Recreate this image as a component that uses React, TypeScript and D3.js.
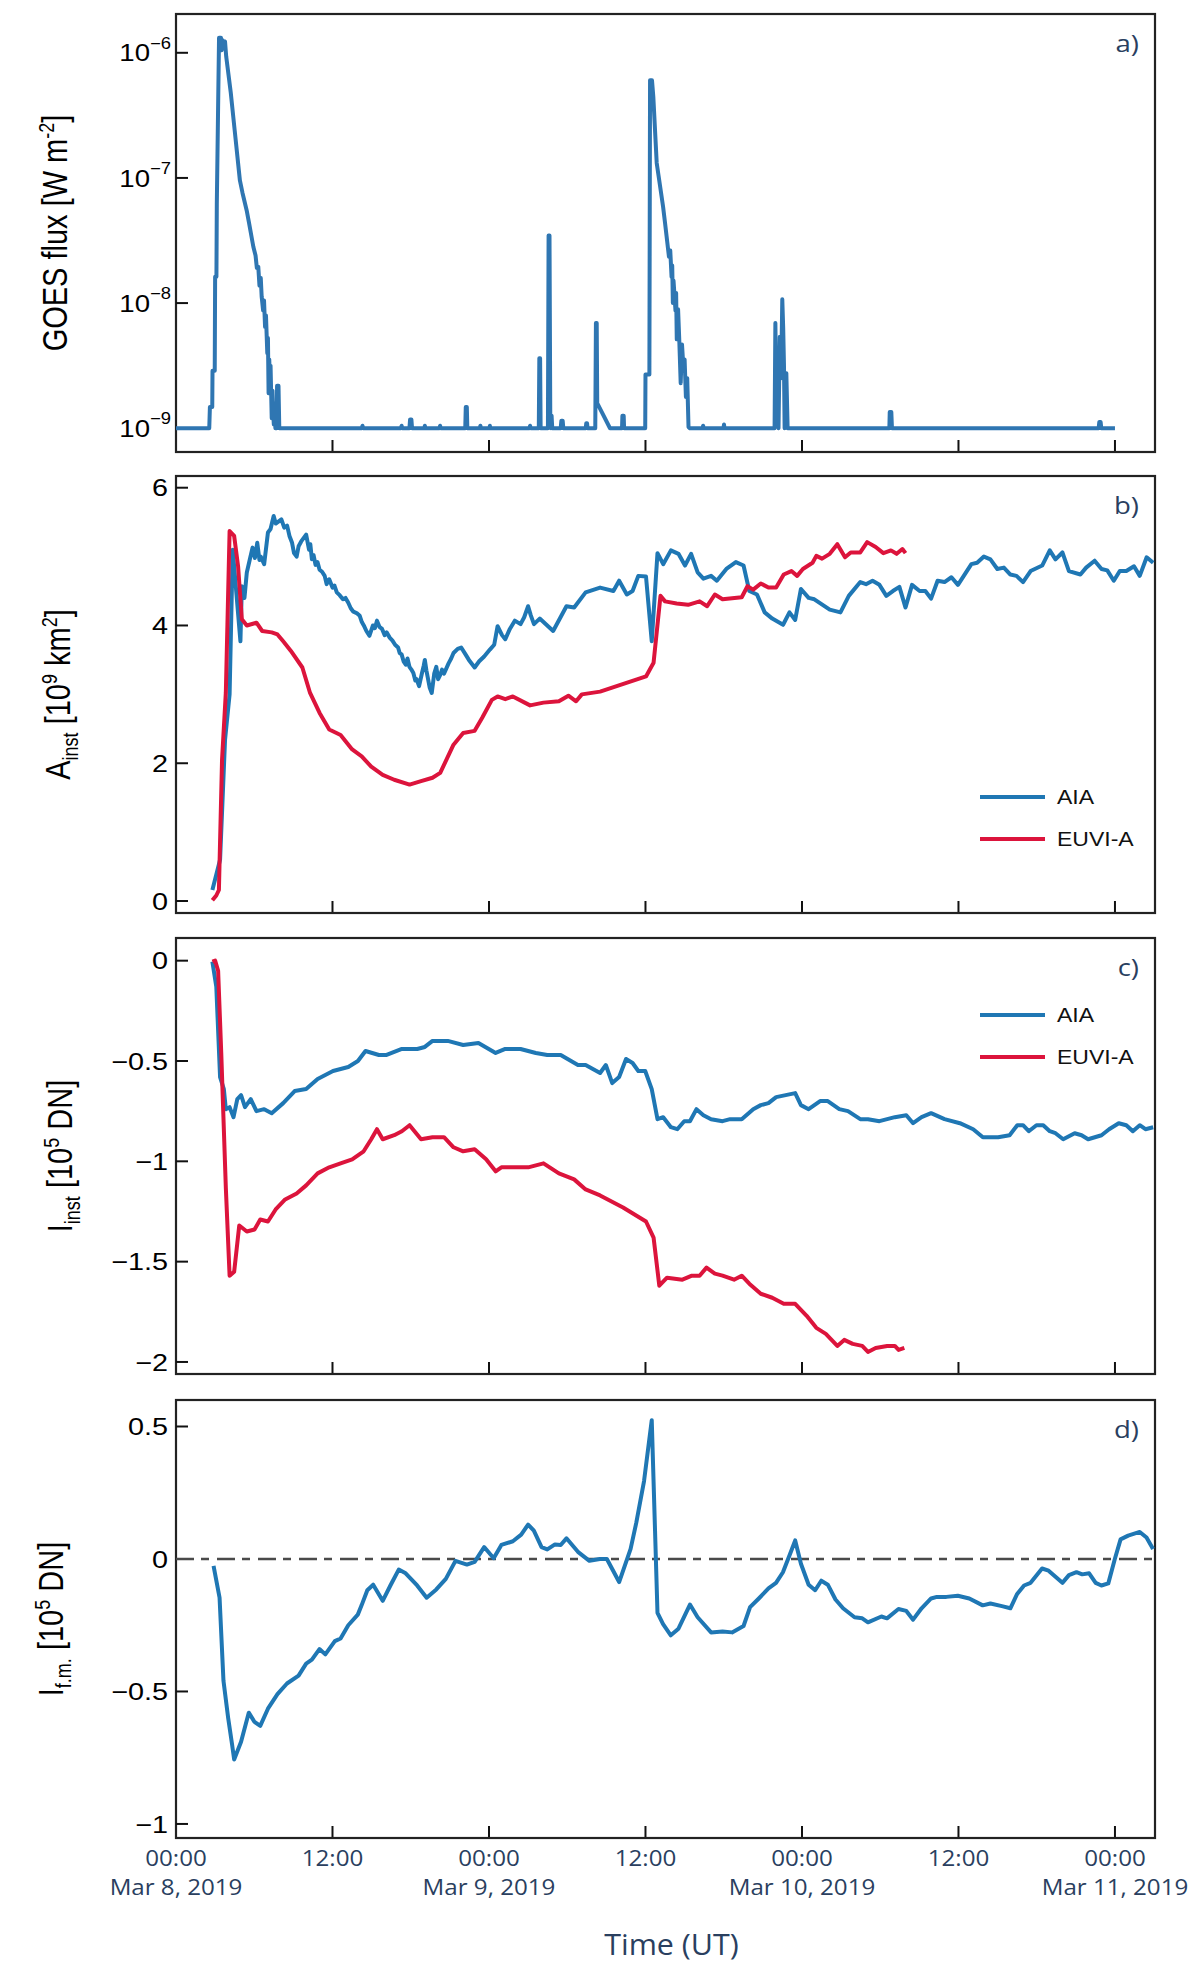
import React from 'react';
import * as d3 from 'd3';

// ---------- data (hours since 2019-03-08 00:00 UT) ----------
const T0 = Date.UTC(2019, 2, 8);
const T_END_HOURS = 75.07;

// GOES flux: [hour, log10 flux (W m^-2)]
const goesLogFlux: [number, number][] = [
  [0, -9], [2.55, -9], [2.6, -8.83], [2.78, -8.83], [2.8, -8.54], [2.97, -8.54], [3.0, -7.79], [3.1, -7.79],
  [3.13, -7.2], [3.3, -5.88], [3.45, -5.88], [3.5, -5.98], [3.58, -5.9], [3.66, -5.95], [3.76, -5.91], [3.85, -6.03],
  [4.2, -6.32], [4.5, -6.62], [4.9, -7.02], [5.1, -7.12], [5.42, -7.26], [5.6, -7.36], [5.93, -7.55], [6.1, -7.62],
  [6.2, -7.72], [6.31, -7.71], [6.4, -7.86], [6.5, -7.8], [6.57, -7.95], [6.68, -8.06], [6.75, -7.98], [6.83, -8.19],
  [6.9, -8.1], [7.0, -8.4], [7.05, -8.28], [7.1, -8.72], [7.15, -8.45], [7.2, -8.62], [7.25, -8.5], [7.34, -8.92],
  [7.4, -8.7], [7.45, -8.86], [7.5, -8.97], [7.55, -8.8], [7.62, -9], [7.72, -9], [7.75, -8.66], [7.86, -8.66],
  [7.92, -9], [14.25, -9], [14.3, -8.98], [14.35, -9], [17.25, -9], [17.3, -8.98], [17.35, -9], [17.9, -9],
  [17.95, -8.93], [18.05, -8.93], [18.1, -9], [19.05, -9], [19.08, -8.98], [19.12, -9], [20.2, -9], [20.25, -8.98],
  [20.3, -9], [22.18, -9], [22.22, -8.83], [22.3, -8.83], [22.34, -9], [23.3, -9], [23.34, -8.98], [23.38, -9],
  [24.04, -9], [24.07, -8.98], [24.1, -9], [27.1, -9], [27.15, -8.98], [27.2, -9], [27.82, -9], [27.86, -8.44],
  [27.92, -8.44], [27.96, -9], [28.52, -9], [28.57, -7.46], [28.64, -7.46], [28.7, -8.9], [28.75, -9], [28.8, -8.9],
  [28.85, -9], [29.5, -9], [29.55, -8.94], [29.65, -8.94], [29.7, -9], [31.42, -9], [31.46, -8.96], [31.52, -8.96],
  [31.56, -9], [32.15, -9], [32.2, -8.16], [32.26, -8.16], [32.3, -8.8], [33.28, -9], [34.2, -9], [34.23, -8.9],
  [34.33, -8.9], [34.36, -9], [35.98, -9], [36.0, -8.57], [36.3, -8.57], [36.35, -6.22], [36.5, -6.22], [36.6, -6.35],
  [36.86, -6.88], [37.0, -6.98], [37.35, -7.23], [37.5, -7.36], [37.8, -7.63], [37.9, -7.58], [38.0, -7.79],
  [38.05, -7.7], [38.1, -8.0], [38.15, -7.82], [38.3, -8.06], [38.35, -7.92], [38.4, -8.29], [38.5, -8.05],
  [38.6, -8.32], [38.7, -8.64], [38.8, -8.33], [38.9, -8.5], [39.0, -8.45], [39.1, -8.75], [39.2, -8.6], [39.3, -8.99],
  [39.4, -9], [40.38, -9], [40.42, -8.98], [40.46, -9], [41.98, -9], [42.02, -8.97], [42.06, -9], [45.9, -9],
  [45.96, -8.16], [46.05, -8.9], [46.2, -9], [46.3, -8.27], [46.4, -8.6], [46.49, -7.97], [46.56, -8.2], [46.62, -8.5],
  [46.67, -9], [46.8, -8.56], [46.9, -9], [54.7, -9], [54.73, -8.87], [54.85, -8.87], [54.9, -9], [70.75, -9],
  [70.8, -8.95], [70.9, -8.95], [70.95, -9], [72.0, -9],
];

// Instantaneous area [10^9 km^2]
const aiaArea: [number, number][] = [
  [2.79, 0.16], [3.38, 0.6], [3.76, 2.34], [4.11, 3.0], [4.35, 5.1], [4.94, 3.77], [5.05, 4.57], [5.25, 4.4],
  [5.43, 4.77], [5.65, 4.95], [5.87, 5.13], [6.05, 4.98], [6.23, 5.2], [6.4, 4.95], [6.5, 5.0], [6.76, 4.89],
  [7.05, 5.35], [7.25, 5.4], [7.49, 5.59], [7.65, 5.48], [7.8, 5.5], [8.08, 5.54], [8.3, 5.42], [8.52, 5.45],
  [8.7, 5.3], [8.9, 5.2], [9.05, 5.05], [9.25, 5.0], [9.4, 5.15], [9.6, 5.22], [9.98, 5.32], [10.2, 5.1],
  [10.3, 5.18], [10.42, 4.96], [10.55, 5.02], [10.7, 4.88], [10.85, 4.92], [11.01, 4.81], [11.2, 4.78],
  [11.4, 4.72], [11.55, 4.6], [11.75, 4.67], [12.0, 4.55], [12.15, 4.58], [12.33, 4.48], [12.55, 4.44],
  [12.8, 4.38], [13.0, 4.4], [13.21, 4.33], [13.4, 4.25], [13.6, 4.2], [13.85, 4.18], [14.09, 4.14], [14.25, 4.05],
  [14.4, 4.0], [14.6, 3.92], [14.83, 3.85], [15.1, 4.0], [15.25, 3.96], [15.41, 4.07], [15.6, 3.98], [15.8, 3.95],
  [16.0, 3.86], [16.15, 3.9], [16.4, 3.82], [16.6, 3.78], [16.8, 3.72], [17.03, 3.68], [17.15, 3.6], [17.3, 3.58],
  [17.45, 3.48], [17.62, 3.43], [17.75, 3.52], [17.9, 3.4], [18.05, 3.36], [18.2, 3.31], [18.35, 3.2],
  [18.45, 3.22], [18.64, 3.12], [18.85, 3.3], [19.0, 3.42], [19.08, 3.5], [19.2, 3.35], [19.3, 3.25], [19.45, 3.1],
  [19.61, 3.02], [19.8, 3.3], [19.96, 3.4], [20.1, 3.22], [20.25, 3.28], [20.4, 3.36], [20.55, 3.3], [20.9, 3.45],
  [21.1, 3.52], [21.28, 3.6], [21.6, 3.66], [21.87, 3.68], [22.2, 3.58], [22.46, 3.5], [22.9, 3.39], [23.25, 3.48],
  [23.63, 3.55], [24.07, 3.65], [24.4, 3.72], [24.66, 3.99], [25.0, 3.86], [25.25, 3.8], [25.6, 3.95], [25.98, 4.07],
  [26.42, 4.02], [26.7, 4.12], [27.0, 4.28], [27.2, 4.15], [27.45, 4.02], [27.89, 4.1], [28.92, 3.92], [29.94, 4.28],
  [30.53, 4.26], [31.41, 4.48], [32.52, 4.55], [33.54, 4.5], [33.98, 4.65], [34.57, 4.45], [35.01, 4.5],
  [35.45, 4.72], [36.04, 4.71], [36.48, 3.77], [36.92, 5.05], [37.36, 4.89], [37.95, 5.09], [38.53, 5.04],
  [39.03, 4.87], [39.5, 5.04], [40.0, 4.77], [40.44, 4.68], [41.03, 4.72], [41.47, 4.65], [42.2, 4.82],
  [42.93, 4.92], [43.52, 4.87], [43.96, 4.5], [44.55, 4.45], [45.14, 4.19], [45.72, 4.1], [46.55, 4.01],
  [47.04, 4.19], [47.48, 4.08], [47.92, 4.53], [48.51, 4.4], [48.95, 4.38], [50.13, 4.23], [50.95, 4.19],
  [51.59, 4.43], [52.47, 4.63], [52.91, 4.6], [53.41, 4.65], [53.94, 4.59], [54.47, 4.43], [54.97, 4.5],
  [55.47, 4.56], [55.94, 4.26], [56.44, 4.59], [57.02, 4.5], [57.46, 4.5], [57.9, 4.39], [58.4, 4.65],
  [58.93, 4.63], [59.46, 4.7], [59.96, 4.59], [60.99, 4.89], [61.43, 4.91], [61.95, 5.0], [62.45, 4.96],
  [62.98, 4.82], [63.48, 4.84], [63.98, 4.74], [64.45, 4.72], [64.95, 4.63], [65.53, 4.79], [66.42, 4.87],
  [67.0, 5.09], [67.44, 4.96], [67.97, 5.06], [68.47, 4.79], [69.35, 4.74], [69.79, 4.84], [70.44, 4.94],
  [70.97, 4.82], [71.41, 4.8], [71.91, 4.65], [72.37, 4.79], [72.87, 4.79], [73.46, 4.86], [73.9, 4.72],
  [74.43, 4.99], [74.93, 4.91],
];

const euviArea: [number, number][] = [
  [2.79, 0.01], [3.09, 0.08], [3.29, 0.16], [3.53, 2.05], [3.82, 3.02], [4.11, 5.37], [4.46, 5.3], [4.76, 4.86],
  [5.05, 4.09], [5.43, 4.0], [6.17, 4.04], [6.61, 3.92], [7.34, 3.9], [7.78, 3.87], [8.22, 3.77], [8.81, 3.63],
  [9.69, 3.39], [10.28, 3.02], [11.01, 2.73], [11.75, 2.49], [12.62, 2.41], [13.51, 2.2], [14.24, 2.1],
  [14.97, 1.95], [15.85, 1.83], [16.73, 1.76], [17.91, 1.69], [18.79, 1.74], [19.67, 1.79], [20.26, 1.86],
  [21.28, 2.27], [22.02, 2.44], [22.9, 2.47], [23.48, 2.66], [24.22, 2.92], [24.66, 2.97], [25.25, 2.93],
  [25.83, 2.97], [27.15, 2.84], [28.18, 2.88], [29.36, 2.9], [30.09, 2.98], [30.68, 2.9], [31.12, 3.0],
  [32.52, 3.04], [36.04, 3.26], [36.62, 3.46], [37.15, 4.43], [37.5, 4.35], [38.39, 4.32], [39.27, 4.3],
  [40.15, 4.35], [40.73, 4.28], [41.32, 4.45], [41.91, 4.38], [43.38, 4.41], [43.82, 4.57], [44.26, 4.52],
  [44.84, 4.61], [45.43, 4.55], [46.02, 4.55], [46.6, 4.74], [47.19, 4.79], [47.63, 4.72], [48.07, 4.82],
  [48.81, 4.91], [49.1, 5.01], [49.54, 4.97], [50.13, 5.04], [50.71, 5.18], [51.3, 4.99], [51.74, 5.06],
  [52.47, 5.06], [53.0, 5.21], [53.65, 5.14], [54.24, 5.05], [54.82, 5.09], [55.26, 5.04], [55.7, 5.11], [55.94, 5.05],
];

// Instantaneous intensity [10^5 DN]
const aiaIntensity: [number, number][] = [
  [2.79, -0.005], [3.09, -0.13], [3.38, -0.58], [3.67, -0.64], [3.82, -0.74], [4.11, -0.73], [4.41, -0.78],
  [4.7, -0.69], [4.99, -0.67], [5.29, -0.73], [5.73, -0.69], [6.17, -0.75], [6.76, -0.74], [7.34, -0.76],
  [8.22, -0.71], [9.1, -0.65], [9.98, -0.64], [10.86, -0.59], [12.04, -0.55], [13.21, -0.53], [13.95, -0.5],
  [14.53, -0.45], [15.56, -0.47], [16.15, -0.47], [17.32, -0.44], [18.5, -0.44], [19.08, -0.43], [19.67, -0.4],
  [20.84, -0.4], [22.02, -0.42], [23.19, -0.41], [24.51, -0.46], [25.25, -0.44], [26.42, -0.44], [27.59, -0.46],
  [28.47, -0.47], [29.5, -0.47], [30.82, -0.52], [31.41, -0.52], [32.52, -0.56], [32.96, -0.52], [33.45, -0.61],
  [33.98, -0.58], [34.51, -0.49], [35.01, -0.51], [35.45, -0.55], [35.98, -0.55], [36.48, -0.64], [36.92, -0.79],
  [37.36, -0.78], [37.95, -0.83], [38.44, -0.84], [38.97, -0.8], [39.41, -0.8], [39.91, -0.74], [40.44, -0.77],
  [41.03, -0.79], [41.91, -0.8], [42.49, -0.79], [43.38, -0.79], [44.26, -0.74], [44.84, -0.72], [45.43, -0.71],
  [46.02, -0.68], [46.75, -0.67], [47.48, -0.66], [47.92, -0.72], [48.51, -0.74], [49.39, -0.7], [49.98, -0.7],
  [50.86, -0.74], [51.53, -0.75], [52.47, -0.79], [53.06, -0.79], [53.94, -0.8], [55.12, -0.78], [56.0, -0.77],
  [56.52, -0.81], [57.17, -0.78], [57.9, -0.76], [58.93, -0.79], [60.11, -0.81], [61.13, -0.84], [61.87, -0.88],
  [63.04, -0.88], [63.92, -0.87], [64.51, -0.82], [64.95, -0.82], [65.39, -0.85], [65.98, -0.82], [66.5, -0.82],
  [67.0, -0.85], [67.44, -0.86], [68.03, -0.89], [68.91, -0.86], [69.44, -0.87], [69.94, -0.89], [70.97, -0.87],
  [71.55, -0.84], [72.29, -0.81], [72.87, -0.82], [73.37, -0.85], [73.9, -0.82], [74.34, -0.84], [74.93, -0.83],
];

const euviIntensity: [number, number][] = [
  [2.79, -0.005], [3.0, 0.0], [3.23, -0.05], [3.47, -0.46], [3.82, -1.13], [4.11, -1.57], [4.46, -1.55],
  [4.85, -1.32], [5.43, -1.35], [6.02, -1.34], [6.46, -1.29], [7.05, -1.3], [7.64, -1.24], [8.37, -1.19],
  [9.25, -1.16], [9.98, -1.12], [10.86, -1.06], [11.75, -1.03], [12.62, -1.01], [13.51, -0.99], [14.39, -0.95],
  [14.97, -0.89], [15.41, -0.84], [15.85, -0.89], [16.73, -0.87], [17.32, -0.85], [17.91, -0.82], [18.79, -0.89],
  [19.67, -0.88], [20.55, -0.88], [21.28, -0.93], [22.02, -0.95], [22.9, -0.94], [23.78, -0.99], [24.51, -1.05],
  [24.95, -1.03], [25.83, -1.03], [27.01, -1.03], [28.18, -1.01], [29.36, -1.06], [30.53, -1.09], [31.41, -1.14],
  [32.52, -1.17], [34.28, -1.23], [36.04, -1.3], [36.62, -1.38], [37.06, -1.62], [37.65, -1.58], [38.83, -1.59],
  [39.56, -1.57], [40.15, -1.57], [40.68, -1.53], [41.32, -1.56], [41.91, -1.57], [42.79, -1.59], [43.38, -1.57],
  [43.96, -1.61], [44.84, -1.66], [45.72, -1.68], [46.6, -1.71], [47.48, -1.71], [48.36, -1.77], [49.1, -1.83],
  [49.83, -1.86], [50.71, -1.92], [51.24, -1.89], [51.89, -1.91], [52.62, -1.92], [53.06, -1.95], [53.65, -1.93],
  [54.53, -1.92], [55.12, -1.92], [55.41, -1.94], [55.85, -1.93],
];

// Intensity of flux-matched region [10^5 DN]
const fmIntensity: [number, number][] = [
  [2.88, -0.026], [3.34, -0.146], [3.64, -0.46], [4.0, -0.6], [4.3, -0.7], [4.46, -0.757], [4.99, -0.69],
  [5.58, -0.58], [6.02, -0.615], [6.46, -0.63], [7.05, -0.565], [7.78, -0.51], [8.51, -0.47], [9.4, -0.44],
  [9.98, -0.395], [10.42, -0.38], [11.0, -0.34], [11.45, -0.36], [12.18, -0.31], [12.62, -0.3], [13.21, -0.25],
  [13.94, -0.21], [14.23, -0.175], [14.67, -0.118], [15.12, -0.097], [15.85, -0.158], [16.44, -0.1], [17.08, -0.04],
  [17.61, -0.054], [18.49, -0.1], [19.22, -0.146], [19.96, -0.115], [20.69, -0.075], [21.43, -0.007],
  [22.31, -0.021], [22.9, -0.011], [23.63, 0.045], [24.36, 0.003], [24.95, 0.053], [25.83, 0.067], [26.47, 0.092],
  [27.0, 0.13], [27.44, 0.107], [28.03, 0.045], [28.47, 0.036], [29.06, 0.055], [29.5, 0.053], [29.94, 0.078],
  [30.82, 0.027], [31.7, -0.007], [32.5, 0.0], [33.04, 0.0], [33.98, -0.087], [34.86, 0.038], [35.3, 0.138],
  [35.89, 0.294], [36.48, 0.524], [36.92, -0.203], [37.35, -0.246], [37.94, -0.288], [38.53, -0.263],
  [39.41, -0.172], [40.0, -0.22], [41.03, -0.277], [41.91, -0.274], [42.64, -0.277], [43.52, -0.253],
  [44.02, -0.182], [44.69, -0.149], [45.43, -0.111], [46.01, -0.09], [46.54, -0.05], [47.04, 0.013], [47.48, 0.07],
  [47.92, -0.018], [48.51, -0.097], [49.01, -0.118], [49.48, -0.082], [49.98, -0.097], [50.57, -0.153],
  [51.15, -0.186], [52.03, -0.22], [52.62, -0.224], [53.06, -0.239], [54.09, -0.217], [54.52, -0.224],
  [55.4, -0.189], [56.0, -0.196], [56.52, -0.229], [57.17, -0.186], [57.9, -0.149], [58.34, -0.143],
  [59.07, -0.143], [59.95, -0.139], [60.83, -0.149], [61.86, -0.175], [62.45, -0.168], [63.33, -0.178],
  [63.98, -0.186], [64.5, -0.132], [65.03, -0.1], [65.53, -0.09], [66.41, -0.036], [66.91, -0.044], [67.97, -0.09],
  [68.47, -0.061], [69.05, -0.05], [69.49, -0.058], [70.02, -0.054], [70.52, -0.09], [70.96, -0.1], [71.49, -0.092],
  [71.99, 0.0], [72.43, 0.074], [73.01, 0.088], [73.9, 0.102], [74.42, 0.081], [74.92, 0.038],
];

// tick values
const goesTickExps = [-6, -7, -8, -9];
const areaTicks = [0, 2, 4, 6];
const intensityTicks = [0, -0.5, -1, -1.5, -2];
const fmTicks = [0.5, 0, -0.5, -1];
const legendLabels = ['AIA', 'EUVI-A'];

// ---------- styles ----------
const BLUE = '#1f77b4';
const GOES_BLUE = '#2f76b2';
const RED = '#dc143c';
const NAVY = '#2a3f5f';
const ARIAL = '"Liberation Sans", Arial, Helvetica, sans-serif';
const OPEN = '"Open Sans", "Noto Sans", sans-serif';
const SX = 1.2; // horizontal stretch of the reference lettering

const L = 176;
const R = 1155;
const PANELS = [
  { top: 14, bottom: 452 },
  { top: 476, bottom: 913 },
  { top: 938, bottom: 1374 },
  { top: 1400, bottom: 1838 },
];

const toDate = (h: number) => new Date(T0 + h * 3600e3);
const fmtMinus = (v: number) => (v < 0 ? '\u2212' + String(Math.abs(v)) : String(v));

function SText(props: {
  x: number;
  y: number;
  anchor?: string;
  font: string;
  size: number;
  fill: string;
  dy?: string;
  sx?: number;
  children: React.ReactNode;
}) {
  const { x, y, anchor = 'start', font, size, fill, dy, sx = SX, children } = props;
  return (
    <g transform={`translate(${x},${y}) scale(${sx},1)`}>
      <text x={0} y={0} dy={dy} textAnchor={anchor} fontFamily={font} fontSize={size} fill={fill}>
        {children}
      </text>
    </g>
  );
}

export default function App() {
  const x = d3
    .scaleUtc()
    .domain([toDate(0), toDate(T_END_HOURS)])
    .range([L, R]);
  const xTicks = d3.utcHour.every(12)!.range(toDate(0), toDate(72.01));
  const fmtHM = d3.utcFormat('%H:%M');
  const fmtDay = d3.utcFormat('%b %-d, %Y');

  const yA = d3.scaleLog().domain([10 ** -9.19, 10 ** -5.69]).range([PANELS[0].bottom, PANELS[0].top]);
  const yB = d3.scaleLinear().domain([-0.174, 6.17]).range([PANELS[1].bottom, PANELS[1].top]);
  const yC = d3.scaleLinear().domain([-2.06, 0.113]).range([PANELS[2].bottom, PANELS[2].top]);
  const yD = d3.scaleLinear().domain([-1.053, 0.6]).range([PANELS[3].bottom, PANELS[3].top]);

  const lineA = d3
    .line<[number, number]>()
    .x((d) => x(toDate(d[0])))
    .y((d) => yA(10 ** d[1]));
  const mk = (y: d3.ScaleLinear<number, number>) =>
    d3
      .line<[number, number]>()
      .x((d) => x(toDate(d[0])))
      .y((d) => y(d[1]));

  const frame = (i: number) => {
    const p = PANELS[i];
    return (
      <g key={'f' + i}>
        {xTicks.map((t, k) => (
          <line key={k} x1={x(t)} x2={x(t)} y1={p.bottom} y2={p.bottom - 12} stroke="#111" strokeWidth={2} />
        ))}
        <rect x={L} y={p.top} width={R - L} height={p.bottom - p.top} fill="none" stroke="#222" strokeWidth={2.2} />
      </g>
    );
  };

  const yTicks = (vals: number[], y: (v: number) => number, key: string) =>
    vals.map((v, k) => (
      <g key={key + k}>
        <line x1={L} x2={L + 12} y1={y(v)} y2={y(v)} stroke="#111" strokeWidth={2} />
        <SText x={168} y={y(v)} dy="0.36em" anchor="end" font={ARIAL} size={24} fill="#000">
          {fmtMinus(v)}
        </SText>
      </g>
    ));

  const panelLabel = (i: number, s: string) => (
    <SText x={1139} y={PANELS[i].top + 38} anchor="end" font={OPEN} size={24} fill={NAVY} sx={1.15}>
      {s}
    </SText>
  );

  const legend = (y0: number) => (
    <g>
      {legendLabels.map((lab, k) => (
        <g key={lab}>
          <line x1={980} x2={1045} y1={y0 + k * 42} y2={y0 + k * 42} stroke={k === 0 ? BLUE : RED} strokeWidth={4} />
          <SText x={1057} y={y0 + k * 42} dy="0.36em" font={ARIAL} size={20} fill="#111" sx={1.15}>
            {lab}
          </SText>
        </g>
      ))}
    </g>
  );

  const ytitle = (i: number, bx: number, children: React.ReactNode) => {
    const cy = (PANELS[i].top + PANELS[i].bottom) / 2;
    return (
      <g transform={`translate(${bx},${cy}) rotate(-90) scale(1,${SX})`}>
        <text x={0} y={0} textAnchor="middle" fontFamily={ARIAL} fontSize={29} fill="#000">
          {children}
        </text>
      </g>
    );
  };

  return (
    <svg width={1200} height={1968} style={{ position: 'absolute', left: 0, top: 0, background: '#fff' }}>
      <rect width={1200} height={1968} fill="#fff" />

      {/* Panel a */}
      {frame(0)}
      {goesTickExps.map((e, k) => (
        <g key={'ga' + k}>
          <line x1={L} x2={L + 12} y1={yA(10 ** e)} y2={yA(10 ** e)} stroke="#111" strokeWidth={2} />
          <SText x={171} y={yA(10 ** e)} anchor="end" font={ARIAL} size={24} fill="#000" sx={1.15}>
            <tspan dy="0.36em">10</tspan>
            <tspan fontSize={16} dy="-0.8em">{'\u2212' + Math.abs(e)}</tspan>
          </SText>
        </g>
      ))}
      <path d={lineA(goesLogFlux) || ''} fill="none" stroke={GOES_BLUE} strokeWidth={4} strokeLinejoin="round" />
      {panelLabel(0, 'a)')}
      {ytitle(0, 67, (
        <>
          <tspan>GOES flux [W m</tspan>
          <tspan fontSize={18} dy={-11}>-2</tspan>
          <tspan dy={11}>]</tspan>
        </>
      ))}

      {/* Panel b */}
      {frame(1)}
      {yTicks(areaTicks, yB, 'b')}
      <path d={mk(yB)(aiaArea) || ''} fill="none" stroke={BLUE} strokeWidth={4} strokeLinejoin="round" />
      <path d={mk(yB)(euviArea) || ''} fill="none" stroke={RED} strokeWidth={4} strokeLinejoin="round" />
      {panelLabel(1, 'b)')}
      {legend(797)}
      {ytitle(1, 70, (
        <>
          <tspan>A</tspan>
          <tspan fontSize={18} dy={7}>inst</tspan>
          <tspan dy={-7}> [10</tspan>
          <tspan fontSize={18} dy={-11}>9</tspan>
          <tspan dy={11}> km</tspan>
          <tspan fontSize={18} dy={-11}>2</tspan>
          <tspan dy={11}>]</tspan>
        </>
      ))}

      {/* Panel c */}
      {frame(2)}
      {yTicks(intensityTicks, yC, 'c')}
      <path d={mk(yC)(aiaIntensity) || ''} fill="none" stroke={BLUE} strokeWidth={4} strokeLinejoin="round" />
      <path d={mk(yC)(euviIntensity) || ''} fill="none" stroke={RED} strokeWidth={4} strokeLinejoin="round" />
      {panelLabel(2, 'c)')}
      {legend(1015)}
      {ytitle(2, 72, (
        <>
          <tspan>I</tspan>
          <tspan fontSize={18} dy={7}>inst</tspan>
          <tspan dy={-7}> [10</tspan>
          <tspan fontSize={18} dy={-11}>5</tspan>
          <tspan dy={11}> DN]</tspan>
        </>
      ))}

      {/* Panel d */}
      {frame(3)}
      {yTicks(fmTicks, yD, 'd')}
      <line x1={L} x2={R} y1={yD(0)} y2={yD(0)} stroke="#4a4a4a" strokeWidth={2.6} strokeDasharray="18,7,8,8" />
      <path d={mk(yD)(fmIntensity) || ''} fill="none" stroke={BLUE} strokeWidth={4} strokeLinejoin="round" />
      {panelLabel(3, 'd)')}
      {ytitle(3, 63, (
        <>
          <tspan>I</tspan>
          <tspan fontSize={18} dy={7}>f.m.</tspan>
          <tspan dy={-7}> [10</tspan>
          <tspan fontSize={18} dy={-11}>5</tspan>
          <tspan dy={11}> DN]</tspan>
        </>
      ))}

      {/* x tick labels */}
      {xTicks.map((t, k) => (
        <g key={'xl' + k}>
          <SText x={x(t)} y={1866} anchor="middle" font={OPEN} size={21} fill={NAVY} sx={1.15}>
            {fmtHM(t)}
          </SText>
          {t.getUTCHours() === 0 && (
            <SText x={x(t)} y={1895} anchor="middle" font={OPEN} size={21} fill={NAVY} sx={1.15}>
              {fmtDay(t)}
            </SText>
          )}
        </g>
      ))}
      <SText x={(L + R) / 2 + 6} y={1955} anchor="middle" font={OPEN} size={29} fill={NAVY} sx={1.05}>
        Time (UT)
      </SText>
    </svg>
  );
}
